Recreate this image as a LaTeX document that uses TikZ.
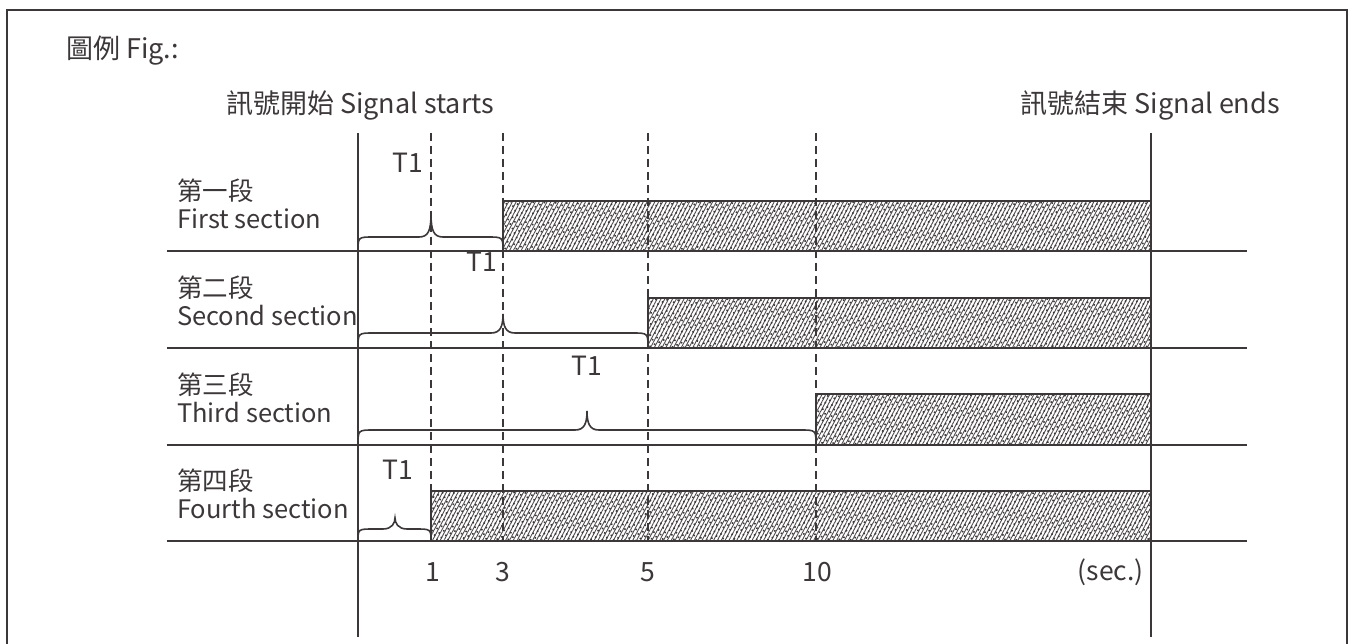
\documentclass[tikz,border=0pt]{standalone}
\usepackage{fontspec}
\setmainfont{Noto Sans CJK TC}
\usetikzlibrary{patterns.meta}
\definecolor{ink}{RGB}{60,55,56}
\tikzset{
  solidline/.style={draw=ink, line width=2pt},
  border/.style={draw=ink, line width=2.6pt},
  dashline/.style={draw=ink, line width=1.4pt, dash pattern=on 8pt off 5pt},
  bar/.style={draw=ink, line width=2.2pt},
  bracepath/.style={draw=ink, line width=1.6pt},
  lbl/.style={text=ink, font=\fontsize{27}{30}\selectfont, inner sep=0pt},
  small/.style={lbl, font=\fontsize{26.5}{30}\selectfont},
  rowlbl/.style={lbl, align=left, anchor=west, font=\fontsize{25.5}{28}\selectfont},
}
% brace: left x, tip x, right x, base y, flat rise, tip rise
\newcommand\mybrace[6]{%
  \draw[bracepath] (#1,#4) .. controls (#1,#4-#5) .. (#1+16,#4-#5)
    -- (#2-12,#4-#5) .. controls (#2-3,#4-#5) and (#2,#4-#5-6) .. (#2,#4-#6)
    .. controls (#2,#4-#5-6) and (#2+3,#4-#5) .. (#2+12,#4-#5)
    -- (#3-16,#4-#5) .. controls (#3,#4-#5) .. (#3,#4);}
\begin{document}
\begin{tikzpicture}[x=1pt,y=-1pt]
\useasboundingbox (0,0) rectangle (1354,644);
% outer frame
\draw[border] (7,644) -- (7,10) -- (1347,10) -- (1347,644);
% title texts
\node[lbl, anchor=west] (fig) at (66,51) {圖例 Fig.:};
\node[lbl] (starts) at (360,105) {訊號開始 Signal starts};
\node[lbl, anchor=east] (ends) at (1280,105) {訊號結束 Signal ends};
% hatched bars
\foreach \xa/\ya/\yb in {503/201/251, 648/298/348, 816/394/445, 431/491/541}{
  \fill[pattern={Lines[angle=62,distance=3.4pt,line width=0.9pt]}, pattern color=ink!90] (\xa,\ya) rectangle (1151,\yb);
  \fill[pattern={Dots[angle=25,distance=5pt,radius=1.1pt]}, pattern color=ink] (\xa,\ya) rectangle (1151,\yb);
  \draw[bar] (\xa,\yb) -- (\xa,\ya) -- (1151,\ya);
}
% row lines
\foreach \y in {251,348,445,541}{ \draw[solidline] (167,\y) -- (1247,\y); }
% dashed lines
\foreach \x in {431,503,648,816}{ \draw[dashline] (\x,133) -- (\x,541); }
% start and end lines
\coordinate (s0) at (358,133); \coordinate (s1) at (358,637);
\coordinate (e0) at (1151,133); \coordinate (e1) at (1151,637);
\draw[solidline] (s0) -- (s1);
\draw[solidline] (e0) -- (e1);
% row labels
\node[rowlbl] (r1) at (177,204) {第一段\\First section};
\node[rowlbl] (r2) at (177,301) {第二段\\Second section};
\node[rowlbl] (r3) at (177,398) {第三段\\Third section};
\node[rowlbl] (r4) at (177,494) {第四段\\Fourth section};
% braces
\mybrace{358}{431}{503}{251}{14}{37}
\mybrace{358}{503}{648}{348}{15}{34}
\mybrace{358}{587}{816}{445}{15}{34}
\mybrace{358}{395}{431}{541}{12}{23}
% T1 labels
\node[small] (t1) at (408,163) {T1};
\node[small] (t2) at (482,262) {T1};
\node[small] (t3) at (587,366) {T1};
\node[small] (t4) at (398,470) {T1};
% axis labels
\node[small] (a1) at (433,572) {1};
\node[small] (a3) at (503,572) {3};
\node[small] (a5) at (648,572) {5};
\node[small] (a10) at (817,572) {10};
\node[small, anchor=east] (sec) at (1144,572) {(sec.)};
\end{tikzpicture}
\end{document}
